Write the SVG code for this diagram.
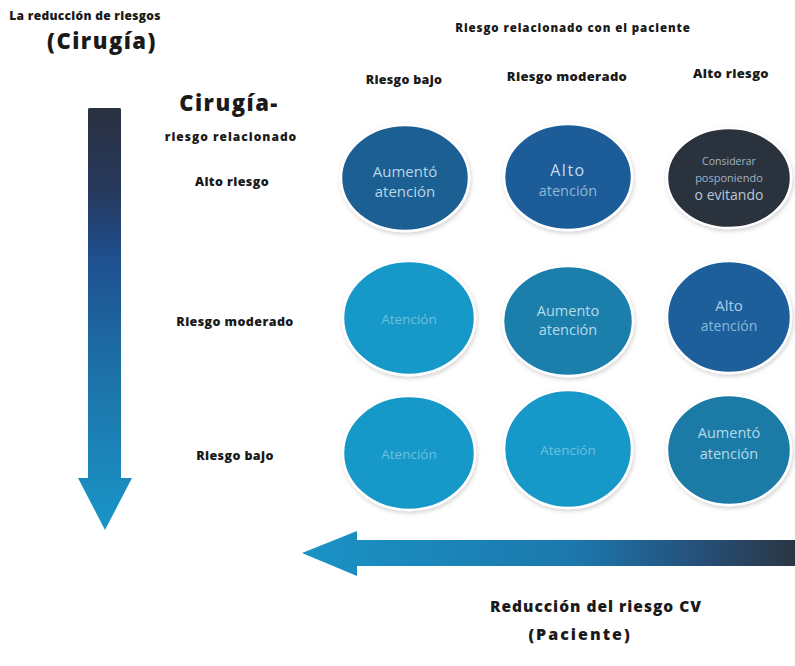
<svg xmlns="http://www.w3.org/2000/svg" width="795" height="666" viewBox="0 0 795 666">
<style>
.lbl{font-family:"Open Sans","Noto Sans","Liberation Sans",sans-serif;font-weight:800;fill:#1a1a1a;text-anchor:middle}
.ct{font-family:"Open Sans","Noto Sans","Liberation Sans",sans-serif;font-weight:400;text-anchor:middle}
.c{stroke:#ffffff;stroke-width:2.5;filter:url(#sh)}
</style>
<defs>
<filter id="sh" x="-20%" y="-20%" width="140%" height="140%">
<feDropShadow dx="1" dy="2" stdDeviation="2" flood-color="#000" flood-opacity="0.18"/>
</filter>
<linearGradient id="gv" x1="0" y1="108" x2="0" y2="530" gradientUnits="userSpaceOnUse">
<stop offset="0" stop-color="#2a3140"/>
<stop offset="0.2" stop-color="#27395e"/>
<stop offset="0.35" stop-color="#1f4f8e"/>
<stop offset="0.65" stop-color="#1c74aa"/>
<stop offset="1" stop-color="#1a95c7"/>
</linearGradient>
<linearGradient id="gh" x1="302" y1="0" x2="795" y2="0" gradientUnits="userSpaceOnUse">
<stop offset="0" stop-color="#1a93c5"/>
<stop offset="0.55" stop-color="#1c78ad"/>
<stop offset="0.8" stop-color="#25507a"/>
<stop offset="1" stop-color="#2b3644"/>
</linearGradient>
</defs>
<rect width="795" height="666" fill="#ffffff"/>

<g id="titulo">
<text class="lbl" x="85" y="20" font-size="12" letter-spacing="0.3">La reducción de riesgos</text>
<text class="lbl" x="102" y="49" font-size="22" letter-spacing="1.5">(Cirugía)</text>
</g>
<g id="encabezado-paciente">
<text class="lbl" x="573" y="32" font-size="11.5" letter-spacing="0.9">Riesgo relacionado con el paciente</text>
</g>
<g id="col-bajo"><text class="lbl" x="404" y="84" font-size="12.5" letter-spacing="0.3">Riesgo bajo</text></g>
<g id="col-moderado"><text class="lbl" x="567" y="81" font-size="13" letter-spacing="0.3">Riesgo moderado</text></g>
<g id="col-alto"><text class="lbl" x="731" y="78" font-size="13" letter-spacing="0.3">Alto riesgo</text></g>

<g id="titulo-cirugia">
<text class="lbl" x="229" y="111" font-size="22" letter-spacing="1.5">Cirugía-</text>
<text class="lbl" x="231" y="141" font-size="12" letter-spacing="1">riesgo relacionado</text>
</g>
<g id="fila-alto"><text class="lbl" x="232" y="186" font-size="12.5" letter-spacing="0.4">Alto riesgo</text></g>
<g id="fila-moderado"><text class="lbl" x="235" y="326" font-size="12.5" letter-spacing="0.4">Riesgo moderado</text></g>
<g id="fila-bajo"><text class="lbl" x="235" y="460" font-size="12.5" letter-spacing="0.4">Riesgo bajo</text></g>

<g id="pie-paciente">
<text class="lbl" x="596" y="612" font-size="15.5" letter-spacing="1">Reducción del riesgo CV</text>
<text class="lbl" x="580" y="640" font-size="16" letter-spacing="2">(Paciente)</text>
</g>

<g id="c11"><ellipse class="c" cx="405" cy="178" rx="64" ry="53" fill="#1d5e93"/>
<text class="ct" x="405" y="177" font-size="15" fill="#b9d6e6">Aumentó</text>
<text class="ct" x="405" y="197" font-size="15" fill="#b9d6e6">atención</text></g>
<g id="c12"><ellipse class="c" cx="568" cy="177" rx="64" ry="53" fill="#1d5c99"/>
<text class="ct" x="568" y="176" font-size="16" letter-spacing="1.5" fill="#c4dcec">Alto</text>
<text class="ct" x="568" y="196" font-size="14.5" fill="#8fb8d6">atención</text></g>
<g id="c13"><ellipse class="c" cx="729" cy="178" rx="62" ry="50" fill="#2b323e"/>
<text class="ct" x="729" y="165" font-size="10.5" fill="#9fb4c4">Considerar</text>
<text class="ct" x="729" y="182" font-size="11" fill="#9fb4c4">posponiendo</text>
<text class="ct" x="729" y="200" font-size="14" fill="#b5c8d6">o evitando</text></g>

<g id="c21"><ellipse class="c" cx="409" cy="318" rx="66" ry="57" fill="#1899c8"/>
<text class="ct" x="409" y="324" font-size="13.5" fill="#6cc0dd">Atención</text></g>
<g id="c22"><ellipse class="c" cx="568" cy="321" rx="65" ry="55" fill="#1a7eab"/>
<text class="ct" x="568" y="316" font-size="14.5" fill="#b4dbe9">Aumento</text>
<text class="ct" x="568" y="335" font-size="14.5" fill="#b4dbe9">atención</text></g>
<g id="c23"><ellipse class="c" cx="729" cy="317" rx="62" ry="56" fill="#1f5f9a"/>
<text class="ct" x="729" y="311" font-size="15" fill="#aacde6">Alto</text>
<text class="ct" x="729" y="331" font-size="14" fill="#8ab9dc">atención</text></g>

<g id="c31"><ellipse class="c" cx="409" cy="453" rx="66" ry="57" fill="#1899c8"/>
<text class="ct" x="409" y="459" font-size="13.5" fill="#6cc0dd">Atención</text></g>
<g id="c32"><ellipse class="c" cx="568" cy="449" rx="64" ry="59" fill="#1899c8"/>
<text class="ct" x="568" y="455" font-size="13.5" fill="#6cc0dd">Atención</text></g>
<g id="c33"><ellipse class="c" cx="729" cy="450" rx="62" ry="55" fill="#1b7aa6"/>
<text class="ct" x="729" y="438" font-size="14.5" fill="#b4dbe9">Aumentó</text>
<text class="ct" x="729" y="459" font-size="14.5" fill="#b4dbe9">atención</text></g>

<g id="conectores">
<path d="M89 108 H120 Q121 108 121 110 V478 H132 L105 530 L78 478 H88 V110 Q88 108 89 108 Z" fill="url(#gv)"/>
<path d="M795 540 H357 V531 L302 553 L357 576 V566 H795 Z" fill="url(#gh)"/>
</g>
</svg>
